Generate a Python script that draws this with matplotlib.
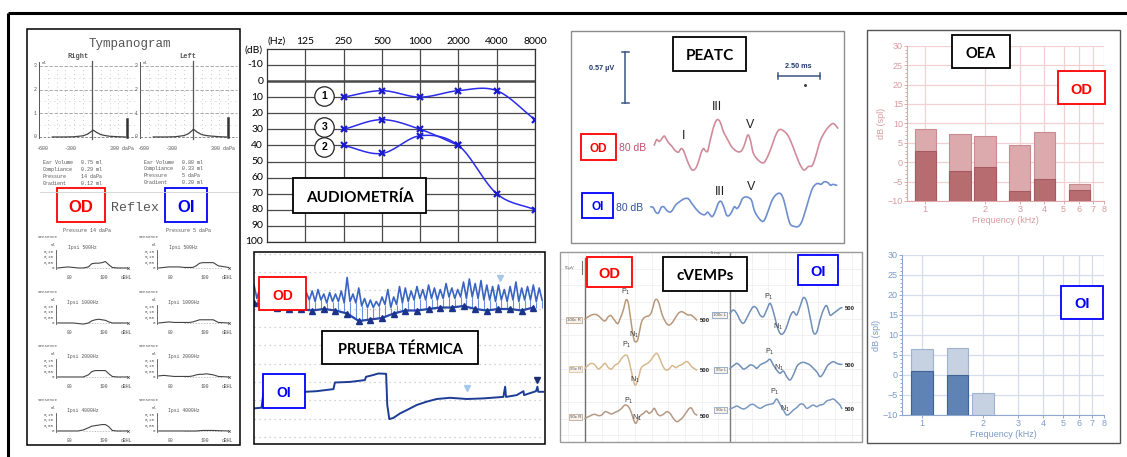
#!/usr/bin/env python
"""Composite of audiological / vestibular results (tympanogram, audiogram,
caloric test, ABR, cVEMPs, DPOAE) rebuilt as a single matplotlib figure."""

import matplotlib
matplotlib.use("Agg")  # headless

import matplotlib.pyplot as plt
import numpy as np
from matplotlib.patches import Rectangle
from matplotlib.ticker import NullLocator

W, H, DPI = 1127, 457, 100
ARIAL = ["Liberation Sans", "DejaVu Sans"]
CALIBRI = ["Lato", "DejaVu Sans"]
MONO = ["Liberation Mono", "DejaVu Sans Mono"]
plt.rcParams["font.family"] = ARIAL

# --------------------------------------------------------------------------- #
# Data
# --------------------------------------------------------------------------- #

# tympanogram: pressure (daPa) vs compliance (ml)
tymp_r_pressure = [-450, -300, -200, -100, -50, 0, 14, 50, 100, 150, 200, 300, 380]
tymp_r_ml = [0, 0, 0.01, 0.05, 0.12, 0.25, 0.29, 0.20, 0.10, 0.06, 0.03, 0.01, 0]
tymp_l_pressure = [-450, -300, -200, -100, -50, 0, 5, 50, 100, 150, 200, 300, 380]
tymp_l_ml = [0, 0, 0.01, 0.06, 0.14, 0.30, 0.33, 0.20, 0.10, 0.06, 0.04, 0.01, 0]
tymp_ear_volume = [0.75, 0.80]
tymp_info_names = ["Ear Volume", "Compliance", "Pressure", "Gradient"]
tymp_r_info = ["0.75 ml", "0.29 ml", "14 daPa", "0.12 ml"]
tymp_l_info = ["0.80 ml", "0.33 ml", "5 daPa", "0.20 ml"]

# acoustic reflex (ipsi), dB HL vs ml
refl_freqs = ["500Hz", "1000Hz", "2000Hz", "4000Hz"]
refl_db = [73, 76, 79, 82, 85, 88, 91, 93, 95, 97, 99, 101, 103, 105, 108, 114]
refl_right = [
    [0, 0.005, 0.01, 0.005, 0, 0, 0.01, 0.04, 0.045, 0.045, 0.05, 0.06, 0.03, 0.005, 0, 0],
    [0, 0, 0, 0, -0.005, -0.01, 0, 0.02, 0.03, 0.035, 0.03, 0.025, 0.01, 0, 0, 0],
    [0, 0, 0, 0, 0, 0, 0.02, 0.05, 0.06, 0.06, 0.06, 0.06, 0.03, 0.005, 0, 0],
    [0, 0, 0, 0, 0, 0.01, 0.03, 0.045, 0.05, 0.055, 0.06, 0.06, 0.04, 0.005, 0, 0],
]
refl_left = [
    [0, 0.005, 0.01, 0.01, 0.01, 0.005, 0.005, 0.005, 0.02, 0.045, 0.05, 0.05, 0.05, 0.05, 0.02, 0.005],
    [0, 0.005, 0.01, 0.005, 0.005, 0.005, 0.005, 0.01, 0.02, 0.03, 0.03, 0.03, 0.03, 0.03, 0.005, 0],
    [0.01, 0.015, 0.01, 0.005, 0.005, 0.005, 0.005, 0.01, 0.02, 0.025, 0.025, 0.03, 0.025, 0.02, 0.005, 0],
    [0, 0, 0, 0, 0, 0, 0, 0, 0, 0.003, 0.005, 0.005, 0.005, 0.005, 0.003, 0],
]

# audiogram (dB HL)
aud_tick_freqs = [125, 250, 500, 1000, 2000, 4000, 8000]
aud_freqs = [250, 500, 1000, 2000, 4000, 8000]
aud_curve1 = [10, 6, 10, 6, 6, 24]
aud_curve2 = [40, 45, 34, 40, 70, 80]
aud_curve3 = [30, 24, 30, 40]
aud_db_ticks = [-10, 0, 10, 20, 30, 40, 50, 60, 70, 80, 90, 100]
aud_circle_labels = ["1", "3", "2"]
aud_circle_db = [9.5, 28.5, 41]

# caloric test: time (s) vs eye position (deg)
od_hi = [53.0, 52.0, 51.5, 50.5, 51.0, 50.5, 51.5, 50.0, 51.0, 50.5,
         51.0, 51.5, 50.0, 50.5, 50.0, 51.0, 55.5, 50.0, 52.0, 48.5,
         48.0, 47.5, 49.0, 51.5, 49.0, 52.5, 52.0, 51.0, 52.5, 51.5,
         53.0, 52.0, 51.5, 53.5, 52.0, 51.5, 54.0, 55.0, 53.5, 54.5,
         53.0, 52.5, 53.0, 51.5, 52.5, 54.0, 52.0, 52.5, 53.0, 52.0]
od_lo = [48.5, 48.0, 47.5, 47.5, 48.0, 47.5, 48.0, 47.5, 47.5, 48.0,
         47.5, 48.0, 47.0, 47.5, 47.5, 47.0, 47.5, 47.0, 46.0, 45.5,
         45.5, 46.0, 46.5, 45.5, 46.5, 47.0, 47.5, 48.0, 48.5, 48.0,
         48.5, 48.0, 48.5, 49.0, 48.5, 49.0, 48.5, 49.0, 48.5, 48.0,
         48.0, 47.5, 48.0, 47.5, 48.0, 47.5, 48.0, 48.0, 47.5, 48.0]
od_floor_t = [0, 4, 8, 12, 16, 20, 24, 28, 32, 36, 40, 44, 48, 52, 56, 60,
              64, 68, 72, 76, 80, 84, 88, 92, 96]
od_floor = [47.0, 46.0, 45.5, 45.0, 45.0, 44.5, 45.0, 44.5, 43.5, 41.0, 41.5,
            42.0, 43.5, 44.5, 44.5, 45.0, 45.5, 45.5, 46.0, 45.0, 44.5, 45.0,
            45.0, 44.5, 45.5]
oi_t = [0.3, 2.6, 3.2, 10.1, 17.5, 21.5, 27.3, 27.8, 33.0, 38.1, 38.5, 41.0,
        42.7, 45.4, 45.8, 46.5, 47.9, 50.2, 52.5, 55.9, 59.3, 62.8, 67.4, 73.1,
        78.8, 85.7, 86.3, 86.6, 90.3, 92.6, 92.8, 96.9, 97.4, 97.7, 99.4]
oi_pos = [11.9, 12.1, 16.9, 17.4, 17.4, 17.6, 18.3, 20.5, 20.7, 21.3, 22.4,
          23.0, 23.5, 23.4, 13.0, 8.3, 8.7, 10.2, 11.3, 13.0, 14.1, 15.0, 15.4,
          15.0, 15.2, 15.7, 19.1, 15.7, 16.3, 17.6, 16.3, 17.6, 19.1, 17.4, 17.4]

# ABR (PEATC): latency (ms) vs amplitude (uV)
peatc_od_t = [0.00, 0.14, 0.30, 0.48, 0.60, 0.73, 0.87, 1.03, 1.23, 1.43, 1.59,
              1.73, 1.87, 2.06, 2.26, 2.46, 2.62, 2.78, 2.92, 3.02, 3.17, 3.31,
              3.51, 3.71, 3.91, 4.11, 4.37, 4.60, 4.90, 5.16, 5.36, 5.56, 5.71,
              5.89, 6.19, 6.49, 6.69, 6.94, 7.18, 7.42, 7.68, 7.94, 8.17, 8.47,
              8.73, 8.93, 9.17, 9.40, 9.60, 9.86, 10.16, 10.46, 10.65, 10.79, 10.91]
peatc_od_uv = [0.00, 0.06, 0.04, 0.08, 0.10, 0.06, 0.02, -0.01, -0.06, -0.08,
               -0.04, -0.06, -0.13, -0.22, -0.28, -0.26, -0.19, -0.09, -0.04,
               -0.06, -0.07, 0.04, 0.19, 0.28, 0.26, 0.15, 0.06, -0.02, -0.07,
               -0.07, 0.00, 0.11, 0.06, -0.09, -0.17, -0.20, -0.15, -0.04, 0.09,
               0.17, 0.16, 0.11, 0.02, -0.13, -0.24, -0.28, -0.24, -0.23, -0.13,
               0.04, 0.15, 0.22, 0.24, 0.22, 0.19]
peatc_oi_t = [-0.20, -0.06, 0.08, 0.24, 0.40, 0.56, 0.73, 0.93, 1.07, 1.27, 1.53,
              1.79, 2.02, 2.22, 2.46, 2.72, 2.98, 3.17, 3.31, 3.45, 3.61, 3.81,
              3.97, 4.13, 4.29, 4.44, 4.60, 4.76, 4.92, 5.08, 5.24, 5.44, 5.63,
              5.79, 5.95, 6.15, 6.39, 6.55, 6.75, 6.98, 7.22, 7.48, 7.68, 7.88,
              8.08, 8.33, 8.57, 8.77, 8.97, 9.17, 9.40, 9.60, 9.76, 9.92, 10.12,
              10.32, 10.48, 10.63, 10.85]
peatc_oi_uv = [0.00, -0.01, -0.06, -0.07, -0.01, 0.00, -0.04, -0.06, -0.04,
               0.02, 0.06, 0.09, 0.09, 0.04, -0.02, -0.07, -0.09, -0.06, -0.09,
               -0.11, -0.06, 0.04, 0.06, 0.00, -0.09, -0.10, -0.06, 0.00, -0.02,
               0.02, 0.09, 0.11, 0.10, 0.07, -0.04, -0.11, -0.16, -0.15, -0.06,
               0.06, 0.13, 0.15, 0.09, -0.06, -0.19, -0.22, -0.22, -0.17, -0.06,
               0.07, 0.20, 0.25, 0.26, 0.25, 0.28, 0.27, 0.24, 0.25, 0.24]
peatc_oi_offset = -0.69
peatc_od_waves = [(1.73, 0.10, "I"), (3.71, 0.43, "III"), (5.70, 0.22, "V")]
peatc_oi_waves = [(3.91, -0.52, "III"), (5.76, -0.47, "V")]

# cVEMPs: latency (ms) vs amplitude (uV)
cv_left_t = [
    [0, 1, 2, 3, 4, 5, 6, 7, 7.8, 8.8, 9.8, 10.5, 11.5, 12.3, 13, 13.8, 14.5, 15,
     15.8, 16.5, 17.2, 18.2, 19.2, 20, 20.8, 21.5, 22.2, 23, 24, 25, 26, 27, 28,
     29, 30, 30.8, 31.8, 32.8, 33.5],
    [0, 1, 2, 3, 4, 5, 6, 7, 8, 9, 10, 11, 12.2, 13, 13.8, 14.6, 15.2, 16, 16.8,
     17.8, 18.8, 19.8, 20.8, 21.5, 22.2, 23.2, 24.2, 25.2, 26.2, 27.2, 28.2, 29.2,
     30.2, 31, 32, 33, 33.5],
    [0, 1, 2, 3, 4, 5, 6, 7, 8, 9, 10, 11, 12, 13, 13.8, 14.6, 15.3, 16, 16.8,
     17.6, 18.4, 19.2, 20, 20.8, 21.6, 22.5, 23.5, 24.5, 25.5, 26.5, 27.5, 28.5,
     29.5, 30.5, 31.3, 32, 32.8, 33.5],
]
cv_left_a = [
    [-0.2, 0.5, 1.0, 1.2, 0.8, -0.2, -0.8, 0.5, 0.8, -0.5, -1.6, -0.2, 2.5, 5.5,
     4.5, -1.0, -5.5, -7.0, -6.5, -3.0, -0.5, 0.5, 0.8, 2.0, 5.0, 5.7, 4.5, 1.5,
     -0.8, -2.0, -1.5, 0, 1.5, 2.0, 1.5, 1.0, 1.0, 0.2, -0.5],
    [-0.5, 0.5, 1.0, 0.5, -0.7, 0, 1.0, -0.3, -0.7, 0.5, 1.0, 2.5, 3.5, 2.5, -1.0,
     -4.5, -5.5, -3.5, -0.5, 0.5, 1.0, 2.0, 3.5, 4.0, 3.0, 0.5, -1.0, -0.7, 0.3,
     -0.3, 0.3, 0.7, 1.5, 1.3, 0, -0.7, -1.0],
    [-1.0, -0.5, 0, 0.2, -0.2, 0, 1.0, 0.7, 0.3, 0.8, 1.2, 2.0, 3.0, 2.5, 1.0,
     -1.5, -2.5, -1.0, 0, 0.5, 1.2, 0.5, 1.0, 2.0, 0.5, -0.2, 0.2, 1.0, 0.5, -1.0,
     -2.0, -1.5, -0.5, 1.0, 2.0, 2.0, 0.5, 0],
]
cv_right_t = [0, 1, 2, 3, 4, 5, 6, 7, 8, 9, 10, 11, 12, 13, 14, 15, 16, 17, 18,
              19, 20, 21, 22, 23, 24, 25, 26, 27, 28, 29, 30, 31, 32, 33, 33.5]
cv_right_a = [
    [0, 1.0, 0, -2.0, -3.0, -1.5, 0.5, 2.0, 1.5, -0.5, -1.0, 1.0, 3.0, 0.5, -3.5,
     -6.0, -6.0, -4.0, -1.0, 0.5, -0.5, 2.0, 4.7, 3.5, -1.0, -5.7, -5.7, -2.0, 1.0,
     2.3, -0.5, 0, 0.7, 1.5, 1.7],
    [0, 0.8, 1.5, 0.8, -0.2, 0.2, 1.0, 0.8, 0, 1.0, 1.5, 2.0, 2.7, 1.0, -0.5,
     -1.5, -0.8, -2.5, -3.5, -2.0, 0.5, 1.5, 1.8, 1.5, 1.0, 0, -1.0, -2.5, -1.5,
     0.5, 1.5, 2.0, 1.5, 1.2, 1.2],
    [-0.2, 0.2, 0.7, 0.2, -0.2, 0.2, 1.0, 1.2, 0.5, 0, 0.5, 1.0, 1.2, 1.5, 2.8,
     1.2, -0.5, -2.0, -1.5, -0.5, 0.2, 1.2, 1.2, 0, 0.5, 1.0, 0.5, 1.0, 1.2, 2.2,
     2.5, 2.8, 2.0, 1.0, 0],
]
cv_left_tags = ["100c R", "95c R", "90c R"]
cv_right_tags = ["100c L", "95c L", "90c L"]
cv_left_p1 = [(12.3, 8.0), (12.5, 6.5), (13.0, 4.3)]
cv_left_n1 = [(14.8, -5.0), (15.0, -4.0), (15.5, -1.0)]
cv_right_p1 = [(11.5, 5.0), (12.0, 4.8), (13.5, 5.0)]
cv_right_n1 = [(14.5, -4.0), (14.8, 0.0), (16.5, -0.2)]

# DPOAE: frequency (kHz) vs level (dB SPL); light = DP, dark = noise floor
oea_ticks = [1, 2, 3, 4, 5, 6, 7, 8]
oea_od_freqs = [1, 1.5, 2, 3, 4, 6]
oea_od_dp = [8.5, 7.2, 6.8, 4.3, 7.7, -5.5]
oea_od_noise = [2.8, -2.2, -1.2, -7.5, -4.3, -7.2]
oea_oi_freqs = [1, 1.5, 2]
oea_oi_dp = [6.5, 6.7, -4.5]
oea_oi_noise = [1.0, 0.0, -10.0]

# --------------------------------------------------------------------------- #
# Helpers
# --------------------------------------------------------------------------- #

fig = plt.figure(figsize=(W / DPI, H / DPI), dpi=DPI)
fig.patch.set_facecolor("white")


def px_axes(x0, y0, x1, y1, z=1):
    ax = fig.add_axes([x0 / W, 1 - y1 / H, (x1 - x0) / W, (y1 - y0) / H])
    ax.set_zorder(z)
    ax.patch.set_alpha(0)
    return ax


def smooth(x, y, n=10):
    """Catmull-Rom curve through the given points (drawing only)."""
    x = np.asarray(x, float)
    y = np.asarray(y, float)
    px = np.concatenate([[2 * x[0] - x[1]], x, [2 * x[-1] - x[-2]]])
    py = np.concatenate([[2 * y[0] - y[1]], y, [2 * y[-1] - y[-2]]])
    s = np.linspace(0, 1, n, endpoint=False)
    xs, ys = [], []
    for i in range(1, len(px) - 2):
        for src, out in ((px, xs), (py, ys)):
            a0, a1, a2, a3 = src[i - 1:i + 3]
            out.extend(0.5 * (2 * a1 + (-a0 + a2) * s
                              + (2 * a0 - 5 * a1 + 4 * a2 - a3) * s ** 2
                              + (-a0 + 3 * a1 - 3 * a2 + a3) * s ** 3))
    xs.append(x[-1]); ys.append(y[-1])
    return np.array(xs), np.array(ys)


ov = px_axes(0, 0, W, H, z=20)
ov.set_xlim(0, W); ov.set_ylim(H, 0); ov.axis("off")


def label_box(x0, y0, x1, y1, text, color, size, lw=1.3, family=ARIAL):
    ov.add_patch(Rectangle((x0, y0), x1 - x0, y1 - y0, facecolor="white",
                           edgecolor=color, lw=lw))
    ov.text((x0 + x1) / 2, (y0 + y1) / 2 + 0.5, text, color=color, fontsize=size,
            fontweight="bold", ha="center", va="center_baseline", family=family)


# --------------------------------------------------------------------------- #
# Tympanogram + reflexes
# --------------------------------------------------------------------------- #


def draw_tympanogram():
    panels = ((39, tymp_r_pressure, tymp_r_ml, tymp_ear_volume[0]),
              (140, tymp_l_pressure, tymp_l_ml, tymp_ear_volume[1]))
    for x0, pres, ml, vol in panels:
        ax = px_axes(x0, 60, x0 + 101, 141)
        ax.set_xlim(-600, 545); ax.set_ylim(-0.17, 3.25); ax.axis("off")
        for v in (1, 2, 3):
            ax.plot([-600, 500], [v, v], color="#9a9a9a", lw=0.6, ls=(0, (4, 2)))
        for v in (0.5, 1.5, 2.5):
            ax.plot([-600, 500], [v, v], color="#c0c0c0", lw=0.6, ls=(0, (1, 5)))
        for p in range(-500, 500, 100):
            ax.plot([p, p], [0, 3], color="#b8b8b8", lw=0.6, ls=(0, (1, 4)))
        ax.plot([-600, -600], [-0.05, 3.15], color="#555", lw=0.7)
        ax.plot([0, 0], [-0.1, 3.2], color="#555", lw=0.9)
        ax.plot([-600, 500], [0, 0], color="#777", lw=0.6, ls=(0, (3, 2)))
        ax.plot(pres, ml, color="#444", lw=0.9)
        ax.plot([400, 400], [0, vol], color="#333", lw=1.8)
        for v in range(4):
            ax.text(-630, v, str(v), ha="right", va="center", fontsize=3.5,
                    family=MONO, color="#555")
        ax.text(-570, 3.12, "ml", ha="left", va="center", fontsize=3, family=MONO, color="#555")
        for p, lab in ((-560, "-600"), (-250, "-300"), (340, "300 daPa")):
            ax.text(p, -0.5, lab, ha="center", va="center", fontsize=3.6,
                    family=MONO, color="#555")

    ov.text(130, 44, "Tympanogram", ha="center", va="center", fontsize=9,
            family=MONO, color="#555")
    ov.text(78, 57, "Right", ha="center", va="center", fontsize=5, family=MONO,
            color="#555", fontweight="bold")
    ov.text(188, 56, "Left", ha="center", va="center", fontsize=5, family=MONO,
            color="#555", fontweight="bold")
    for i, name in enumerate(tymp_info_names):
        ov.text(43, 163 + 6.7 * i, name, fontsize=3.6, family=MONO, color="#555", va="center")
        ov.text(81, 163 + 6.7 * i, tymp_r_info[i], fontsize=3.6, family=MONO, color="#555", va="center")
        ov.text(144, 162 + 6.7 * i, name, fontsize=3.6, family=MONO, color="#555", va="center")
        ov.text(182, 162 + 6.7 * i, tymp_l_info[i], fontsize=3.6, family=MONO, color="#555", va="center")
    ov.plot([40, 238], [192, 192], color="#d0d0d0", lw=0.6)
    ov.text(135, 208, "Reflex", ha="center", va="center", fontsize=9.5,
            family=MONO, color="#555")
    ov.text(87, 230, "Pressure 14 daPa", ha="center", va="center", fontsize=3.6,
            family=MONO, color="#555")
    ov.text(188, 230, "Pressure 5 daPa", ha="center", va="center", fontsize=3.6,
            family=MONO, color="#555")

    for row, zero in enumerate([268, 323, 377, 431]):
        for x0, curve in ((56, refl_right[row]), (157, refl_left[row])):
            ax = px_axes(x0, zero - 18.2, x0 + 75, zero + 3.2)
            ax.set_xlim(72, 116); ax.set_ylim(-0.03, 0.17); ax.axis("off")
            ax.plot([72, 72], [-0.01, 0.17], color="#555", lw=0.6)
            for v in (0.05, 0.10, 0.15):
                ax.plot([71.3, 72], [v, v], color="#555", lw=0.5)
            ax.plot([88, 110], [0, 0], color="#aaa", lw=0.5, ls=(0, (2, 2)))
            ax.plot(refl_db, curve, color="#444", lw=0.8)
            ax.plot([114.5], [0.003], marker="x", ms=1.8, color="#444", mew=0.5)
            for v, lab in ((0.15, "0,15"), (0.10, "0,10"), (0.05, "0,05"), (0, "0")):
                ax.text(70.8, v, lab, ha="right", va="center", fontsize=3.1,
                        family=MONO, color="#555")
            ax.text(70.5, 0.215, "ml", ha="center", va="center", fontsize=3.1,
                    family=MONO, color="#555")
            ax.text(87.5, 0.196, "Ipsi " + refl_freqs[row], ha="center", va="center",
                    fontsize=3.4, family=MONO, color="#555")
            ax.text(61.3, 0.29, "Sensence", ha="left", va="center", fontsize=3.1,
                    family=MONO, color="#555")
            for d, lab in ((80, "80"), (100, "100"), (113, "dBHL")):
                ax.text(d, -0.085, lab, ha="center", va="center", fontsize=3.4,
                        family=MONO, color="#555")


# --------------------------------------------------------------------------- #
# Audiogram
# --------------------------------------------------------------------------- #


def draw_audiogram():
    ax = px_axes(267, 48.8, 535, 242)
    ax.set_xlim(-1, 6); ax.set_ylim(100, -20)
    ax.set_xticks([]); ax.set_yticks([])
    for s in ax.spines.values():
        s.set_color("#333"); s.set_linewidth(0.9)
    for f in aud_tick_freqs:
        ax.axvline(np.log2(f / 125), color="#4a4a4a", lw=0.9)
    for d in aud_db_ticks:
        ax.axhline(d, color="#4a4a4a", lw=1.8 if d == 0 else 0.9)
        ax.text(-1.1, d, str(d), ha="right", va="center", fontsize=7.5, family=CALIBRI)
    ax.text(-1.12, -19, "(dB)", ha="right", va="center", fontsize=7.5, family=CALIBRI)
    ax.text(-0.74, -24.8, "(Hz)", ha="center", va="center", fontsize=7.5, family=CALIBRI)
    for f in aud_tick_freqs:
        ax.text(np.log2(f / 125), -24.8, str(f), ha="center", va="center",
                fontsize=7.5, family=CALIBRI)

    for curve in (aud_curve1, aud_curve2, aud_curve3):
        x = np.log2(np.array(aud_freqs[:len(curve)]) / 125)
        xs, ys = smooth(x, curve, n=20)
        ax.plot(xs, ys, color="#2b2bea", lw=1.1, zorder=3)
        ax.plot(x, curve, ls="none", marker="x", ms=4.5, mew=1.6, color="#1a1ad0", zorder=4)
    for lab, d in zip(aud_circle_labels, aud_circle_db):
        ax.plot(0.5, d, marker="o", ms=14, mfc="white", mec="#222", mew=0.9, zorder=5)
        ax.text(0.5, d, lab, ha="center", va="center", fontsize=7.5,
                fontweight="bold", zorder=6)


# --------------------------------------------------------------------------- #
# Caloric test
# --------------------------------------------------------------------------- #


def draw_thermal():
    ax = px_axes(254, 252, 545, 444)
    ax.set_xlim(0, 100); ax.set_ylim(0, 64); ax.axis("off")
    for yv in np.arange(2.4, 64, 6.1):
        ax.axhline(yv, color="#c4c4c4", lw=0.9, ls=(0, (1, 3)))

    t_hi = np.arange(0, 100, 2)
    xs = np.empty(2 * len(od_hi)); ys = np.empty(2 * len(od_hi))
    xs[0::2] = t_hi; xs[1::2] = t_hi + 1
    ys[0::2] = od_hi; ys[1::2] = od_lo
    ax.vlines(t_hi + 1, np.interp(t_hi + 1, od_floor_t, od_floor), od_lo,
              color="#6a8fdc", lw=0.8)
    ax.plot(xs, ys, color="#3a64c2", lw=1.2)
    ax.plot(od_floor_t, od_floor, color="#2748a8", lw=1.6, marker="^", ms=5,
            mec="#1b3388", mfc="#1b3388")
    ax.plot(oi_t, oi_pos, color="#1d3c95", lw=1.4)
    ax.plot([97.1], [21.3], marker="v", ms=5, color="#1b2f6e")
    ax.plot([73.1, 84.5], [18.7, 55.2], ls="none", marker="v", ms=4, color="#a8c8ea")


# --------------------------------------------------------------------------- #
# PEATC (ABR)
# --------------------------------------------------------------------------- #


def draw_peatc():
    ax = px_axes(571, 31, 844, 243)
    ax.set_xlim(-4.96, 11.29); ax.set_ylim(-1.095, 1.274); ax.axis("off")
    xs, ys = smooth(peatc_od_t, peatc_od_uv)
    ax.plot(xs, ys, color="#d08c9b", lw=1.2)
    xs, ys = smooth(peatc_oi_t, peatc_oi_uv)
    ax.plot(xs, ys + peatc_oi_offset, color="#6d8ed0", lw=1.2)
    bar = "#3a5583"
    ax.plot([-1.74, -1.74], [0.47, 1.04], color=bar, lw=1.1)
    ax.plot([-1.95, -1.53], [0.47, 0.47], color=bar, lw=1.1)
    ax.plot([-1.95, -1.53], [1.04, 1.04], color=bar, lw=1.1)
    ax.plot([7.36, 9.86], [0.77, 0.77], color=bar, lw=1.1)
    ax.plot([7.36, 7.36], [0.74, 0.80], color=bar, lw=1.1)
    ax.plot([9.86, 9.86], [0.74, 0.80], color=bar, lw=1.1)
    ax.plot([8.97], [0.67], marker="o", ms=1.2, color="#444")
    for t, a, lab in peatc_od_waves + peatc_oi_waves:
        ax.text(t, a, lab, ha="center", va="center", fontsize=9, color="#222")

    ov.text(602, 68, "0.57 µV", ha="center", va="center", fontsize=5.2,
            color="#1f3a6e", fontweight="bold")
    ov.text(798, 66, "2.50 ms", ha="center", va="center", fontsize=5.2,
            color="#1f3a6e", fontweight="bold")
    ov.text(633, 148, "80 dB", ha="center", va="center", fontsize=7.5, color="#c05070")
    ov.text(630, 208, "80 dB", ha="center", va="center", fontsize=7.5, color="#3050a0")


# --------------------------------------------------------------------------- #
# cVEMPs
# --------------------------------------------------------------------------- #


def draw_cvemp():
    ax = px_axes(560, 252, 862, 442)
    ax.set_xlim(-7.5, 83.1); ax.set_ylim(-57, 0); ax.axis("off")
    for t in np.arange(-5, 83, 5):
        ax.axvline(t, color="#efefef", lw=0.6)
    for yv in np.arange(-55, 0, 5):
        ax.axhline(yv, color="#efefef", lw=0.6)
    ax.plot([0, 0], [-1.9, -57], color="#6e6e6e", lw=1)
    ax.plot([43.4, 43.4], [0, -57], color="#7a7a7a", lw=1)

    shift = 43.5
    left_rows = zip(cv_left_t, cv_left_a, [-19.9, -34.4, -48.9],
                    ["#b8987a", "#d8b88e", "#b59a86"], cv_left_tags,
                    cv_left_p1, cv_left_n1)
    right_rows = zip([cv_right_t] * 3, cv_right_a, [-18.4, -34.9, -46.9],
                     ["#6f8fb8", "#7090b8", "#7a98c0"], cv_right_tags,
                     cv_right_p1, cv_right_n1)
    for off, rows in ((0, left_rows), (shift, right_rows)):
        for t, a, base, col, tag, p1, n1 in rows:
            xs, ys = smooth(np.array(t) + off, a)
            ax.plot(xs, ys + base, color=col, lw=1.1)
            ax.text(off - 1.1, base - 0.6, tag, fontsize=3.2, ha="right", va="center",
                    color="#555",
                    bbox=dict(boxstyle="square,pad=0.25", fc="#f6f1ea", ec=col, lw=0.5))
            ax.text(off + t[-1] + 0.9, base + a[-1] - 0.3, "500", fontsize=4.2,
                    ha="left", va="center", fontweight="bold", color="#222")
            ax.text(off + p1[0], base + p1[1], "P$_1$", fontsize=5, ha="center",
                    va="center", color="#333")
            ax.text(off + n1[0], base + n1[1], "N$_1$", fontsize=5, ha="center",
                    va="center", color="#333")
    ax.plot([-0.9, -0.9], [-2.7, -6.6], color="#777", lw=0.8)
    ov.text(570, 268, "50µV", fontsize=3, ha="center", va="center", color="#555")
    ov.text(715, 253.5, "5 ms", fontsize=3, ha="center", va="center", color="#555")


# --------------------------------------------------------------------------- #
# OEA (DPOAE)
# --------------------------------------------------------------------------- #


def draw_oea(box, fmin, freqs, dp, noise, light, light_edge, dark, dark_edge,
             grid_c, axis_c, text_c):
    x0, y0, x1, y1 = box
    ax = px_axes(x0, y0, x1, y1)
    ax.set_xscale("log", base=2)
    ax.set_xlim(fmin, 8); ax.set_ylim(-10, 30)
    ax.set_xticks(oea_ticks)
    ax.set_xticklabels([str(v) for v in oea_ticks])
    ax.xaxis.set_minor_locator(NullLocator())
    ax.set_yticks(range(-10, 31, 5))
    ax.set_yticks(range(-10, 31), minor=True)
    ax.grid(True, which="major", color=grid_c, lw=0.9)
    ax.set_axisbelow(True)
    ax.tick_params(colors=text_c, labelsize=6.5, length=2, width=0.6, pad=1)
    ax.tick_params(which="minor", length=1.2, color=text_c)
    for side in ("top", "right"):
        ax.spines[side].set_visible(False)
    for side in ("left", "bottom"):
        ax.spines[side].set_color(axis_c)
    ax.set_xlabel("Frequency (kHz)", color=text_c, fontsize=6.5, labelpad=1)
    ax.set_ylabel("dB (spl)", color=text_c, fontsize=6.5, labelpad=1)
    half = 2 ** 0.18
    for f, top, low in zip(freqs, dp, noise):
        left = f / half
        ax.bar(left, top + 10, width=f * half - left, bottom=-10, align="edge",
               color=light, edgecolor=light_edge, lw=0.8, zorder=3)
        if low > -10:
            ax.bar(left, low + 10, width=f * half - left, bottom=-10, align="edge",
                   color=dark, edgecolor=dark_edge, lw=0.8, zorder=4)


# --------------------------------------------------------------------------- #
# Drive
# --------------------------------------------------------------------------- #

draw_tympanogram()
draw_audiogram()
draw_thermal()
draw_peatc()
draw_cvemp()
draw_oea((907, 45.7, 1104, 201), 0.808, oea_od_freqs, oea_od_dp, oea_od_noise,
         "#dcaaad", "#c98c90", "#b76c70", "#a45a5e", "#f3d0d2", "#e0a8ab", "#d99a9e")
draw_oea((902, 255, 1104, 415), 0.795, oea_oi_freqs, oea_oi_dp, oea_oi_noise,
         "#c6d1e2", "#9fb3d1", "#5f83b5", "#3f6396", "#d3ddec", "#8fa8cf", "#7d9ac6")

# frame and panel borders
ov.plot([8, W], [12.5, 12.5], color="black", lw=2.2, solid_capstyle="butt")
ov.plot([8, 8], [12.5, H], color="black", lw=2.2, solid_capstyle="butt")
for (x0, y0, x1, y1), col, lw in (((27, 29, 240, 445), "black", 1.1),
                                   ((254, 252, 545, 444), "black", 1.1),
                                   ((571, 31, 844, 243), "#8c8c8c", 1.0),
                                   ((560, 252, 862, 442), "#9a9a9a", 1.0),
                                   ((867, 30, 1120, 443), "#555555", 1.0)):
    ov.add_patch(Rectangle((x0, y0), x1 - x0, y1 - y0, fill=False, ec=col, lw=lw))

RED, BLUE = "#ff0000", "#0000ff"
label_box(57, 188, 105, 222, "OD", RED, 12)
label_box(165, 188, 207, 222, "OI", BLUE, 12)
label_box(293, 178, 426, 213, "AUDIOMETRÍA", "black", 11, family=CALIBRI)
label_box(259, 277, 306, 310, "OD", RED, 10)
label_box(322, 331, 478, 364, "PRUEBA TÉRMICA", "black", 10.5, family=CALIBRI)
label_box(263, 374, 305, 408, "OI", BLUE, 10)
label_box(673, 37, 746, 71, "PEATC", "black", 11, family=CALIBRI)
label_box(581, 134, 616, 160, "OD", RED, 8.5)
label_box(582, 193, 613, 218, "OI", BLUE, 8.5)
label_box(587, 257, 632, 287, "OD", RED, 10.5)
label_box(663, 257, 747, 291, "cVEMPs", "black", 11, family=CALIBRI)
label_box(798, 255, 838, 285, "OI", BLUE, 10.5)
label_box(952, 35, 1010, 68, "OEA", "black", 10.5, family=CALIBRI)
label_box(1058, 71, 1105, 104, "OD", RED, 10.5)
label_box(1061, 286, 1103, 319, "OI", BLUE, 10.5)

fig.savefig("out.png", dpi=DPI, facecolor="white")
